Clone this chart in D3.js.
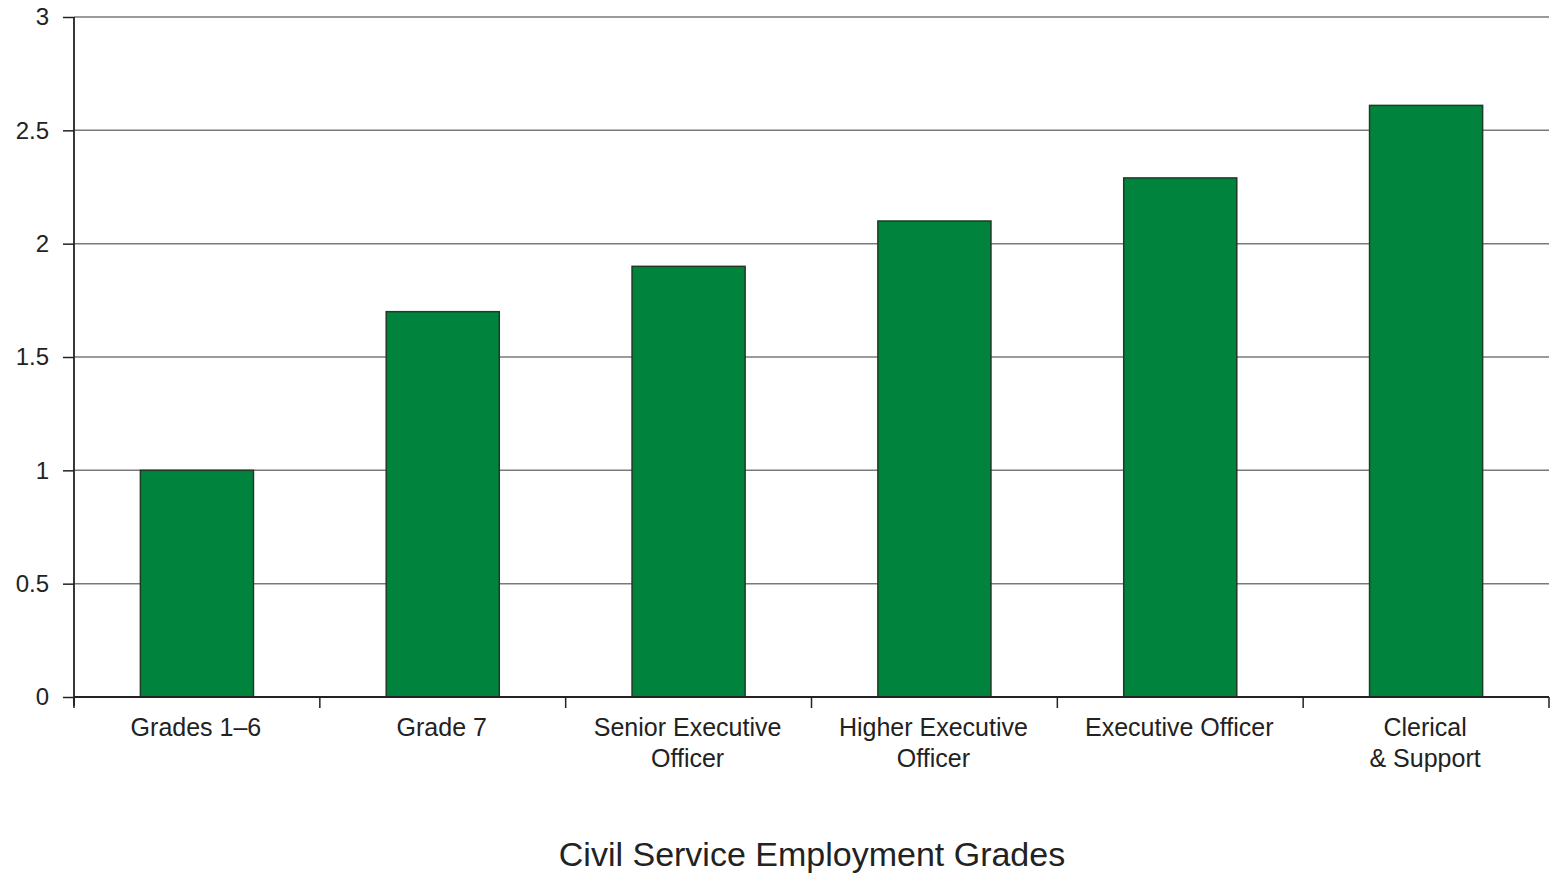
<!DOCTYPE html>
<html><head><meta charset="utf-8">
<script src="https://cdn.jsdelivr.net/npm/d3@7"></script>
<style>body{margin:0;background:#fff}svg{display:block;font-family:"Liberation Sans",Arial,sans-serif}</style>
</head><body><svg id="c" width="1551" height="876"></svg>
<script>
const categories = [["Grades 1–6"],["Grade 7"],["Senior Executive","Officer"],["Higher Executive","Officer"],["Executive Officer"],["Clerical","& Support"]];
const values = [1.0, 1.7, 1.9, 2.1, 2.29, 2.61];
const yTicks = [0, 0.5, 1, 1.5, 2, 2.5, 3];
const yTickLabels = ["0","0.5","1","1.5","2","2.5","3"];
const xTitle = "Civil Service Employment Grades";

(function(){
const svg = d3.select("#c");
const mLeft = 74, mRight = 1549, mTop = 17, mBottom = 697;
const keys = categories.map((c,i)=>i);
const x = d3.scaleBand().domain(keys).range([mLeft,mRight]).paddingInner(0.54).paddingOuter(0.27);
const y = d3.scaleLinear().domain([0,3]).range([mBottom,mTop]);

// gridlines
svg.append("g").selectAll("line").data(yTicks.filter(d=>d>0)).join("line")
  .attr("x1",mLeft).attr("x2",mRight).attr("y1",d=>y(d)).attr("y2",d=>y(d))
  .attr("stroke","#7a7a7a").attr("stroke-width",1.5);

// bars
svg.append("g").selectAll("rect").data(values).join("rect")
  .attr("x",(d,i)=>x(i)).attr("width",x.bandwidth())
  .attr("y",d=>y(d)).attr("height",d=>y(0)-y(d))
  .attr("fill","#00843d").attr("stroke","#1e3b24").attr("stroke-width",1.5);

// y axis
const ya = svg.append("g").attr("transform",`translate(${mLeft},0)`)
  .call(d3.axisLeft(y).tickValues(yTicks).tickFormat((d,i)=>yTickLabels[i]).tickSize(11).tickPadding(14));
ya.select(".domain").attr("stroke","#222").attr("stroke-width",1.8).attr("d",`M0,${mBottom+9}V${mTop}`);
ya.selectAll(".tick line").attr("stroke","#222").attr("stroke-width",1.5);
ya.selectAll(".tick text").attr("font-size",24).attr("fill","#222").attr("font-family","Liberation Sans, Arial, sans-serif");

// x axis
const boundsAll = d3.range(categories.length+1).map(i=>mLeft + i*x.step());
const xa = svg.append("g");
xa.append("line").attr("x1",mLeft).attr("x2",mRight).attr("y1",mBottom).attr("y2",mBottom)
  .attr("stroke","#222").attr("stroke-width",1.8);
xa.selectAll("line.t").data(boundsAll).join("line").attr("class","t")
  .attr("x1",d=>d).attr("x2",d=>d).attr("y1",mBottom).attr("y2",mBottom+11)
  .attr("stroke","#222").attr("stroke-width",1.5);
const lbl = xa.selectAll("text").data(categories).join("text")
  .attr("text-anchor","middle").attr("font-size",25).attr("fill","#222")
  .attr("transform",(d,i)=>`translate(${x(i)+x.bandwidth()/2 - 1},736)`);
lbl.selectAll("tspan").data(d=>d).join("tspan").attr("x",0).attr("dy",(d,j)=>j?31:0).text(d=>d);

svg.append("text").attr("x",812).attr("y",866).attr("text-anchor","middle")
  .attr("font-size",34).attr("fill","#222").text(xTitle);
})();
</script></body></html>
